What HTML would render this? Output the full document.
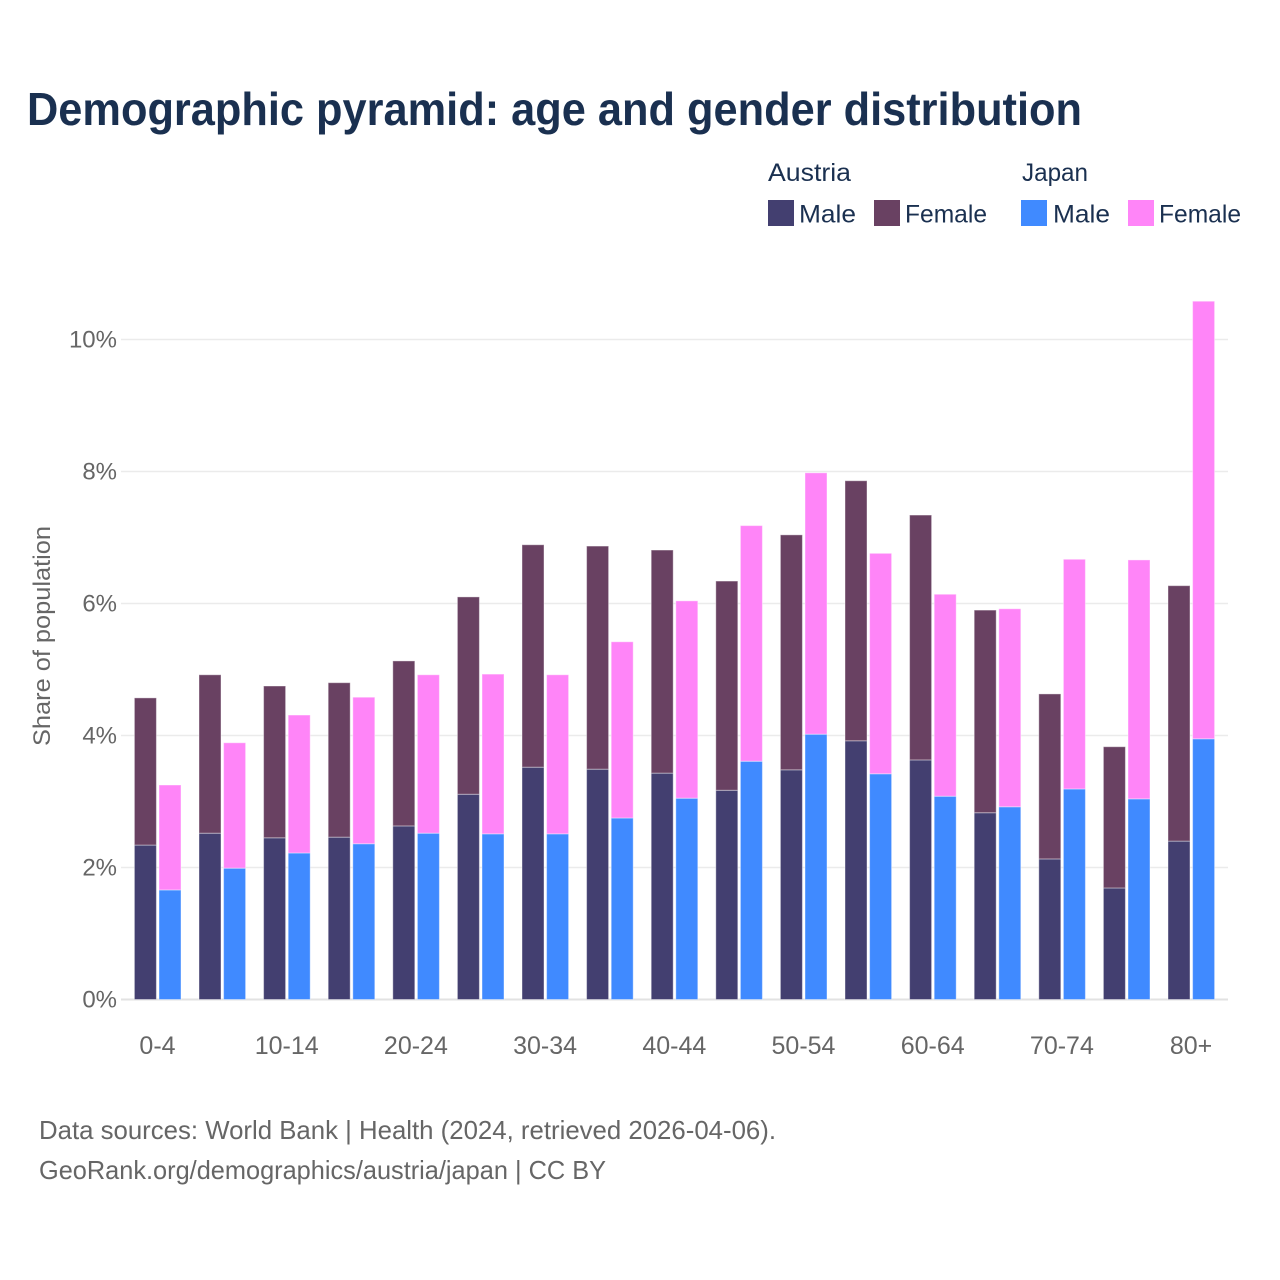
<!DOCTYPE html>
<html lang="en">
<head>
<meta charset="utf-8">
<title>Demographic pyramid: age and gender distribution</title>
<style>
  html, body { margin: 0; padding: 0; background: #fff; }
  svg { display: block; font-family: "Liberation Sans", sans-serif; }
  .tick { font-size: 24px; fill: #666666; }
  .xtick { font-size: 25px; fill: #666666; }
  .leg { font-size: 25px; fill: #1a3050; }
  .src { font-size: 26px; fill: #666666; }
</style>
</head>
<body>
<svg id="chart" xmlns="http://www.w3.org/2000/svg" width="1280" height="1280" viewBox="0 0 1280 1280">
  <rect x="0" y="0" width="1280" height="1280" fill="#ffffff"/>
  <text x="27" y="125" font-size="46" font-weight="700" fill="#1a3050" textLength="1055" lengthAdjust="spacingAndGlyphs">Demographic pyramid: age and gender distribution</text>

  <g>
    <text class="leg" x="768" y="181" textLength="83" lengthAdjust="spacingAndGlyphs">Austria</text>
    <rect x="768" y="200" width="26" height="26" fill="#433f70"/>
    <text class="leg" x="799" y="222.5" textLength="57" lengthAdjust="spacingAndGlyphs">Male</text>
    <rect x="874" y="200" width="26" height="26" fill="#694162"/>
    <text class="leg" x="905" y="222.5" textLength="82" lengthAdjust="spacingAndGlyphs">Female</text>
    <text class="leg" x="1022" y="181" textLength="66" lengthAdjust="spacingAndGlyphs">Japan</text>
    <rect x="1021" y="200" width="26" height="26" fill="#408aff"/>
    <text class="leg" x="1053" y="222.5" textLength="57" lengthAdjust="spacingAndGlyphs">Male</text>
    <rect x="1128" y="200" width="26" height="26" fill="#ff85f8"/>
    <text class="leg" x="1159" y="222.5" textLength="82" lengthAdjust="spacingAndGlyphs">Female</text>
  </g>

  <g id="grid"></g>
  <g id="yticks"></g>
  <g id="bars"></g>
  <g id="xticks"></g>

  <text class="tick" transform="translate(50,636) rotate(-90)" text-anchor="middle" textLength="220" lengthAdjust="spacingAndGlyphs">Share of population</text>

  <text class="src" x="39" y="1139" textLength="737" lengthAdjust="spacingAndGlyphs">Data sources: World Bank | Health (2024, retrieved 2026-04-06).</text>
  <text class="src" x="39" y="1179" textLength="567" lengthAdjust="spacingAndGlyphs">GeoRank.org/demographics/austria/japan | CC BY</text>
</svg>
<script>
const ageGroups = ["0-4","5-9","10-14","15-19","20-24","25-29","30-34","35-39","40-44","45-49","50-54","55-59","60-64","65-69","70-74","75-79","80+"];
const shownAgeLabels = ["0-4","10-14","20-24","30-34","40-44","50-54","60-64","70-74","80+"];
const austriaMale = [2.34,2.52,2.45,2.46,2.63,3.11,3.52,3.49,3.43,3.17,3.48,3.92,3.63,2.83,2.13,1.69,2.40];
const austriaFemale = [2.23,2.40,2.30,2.34,2.50,2.99,3.37,3.38,3.38,3.17,3.56,3.94,3.71,3.07,2.50,2.14,3.87];
const japanMale = [1.66,1.99,2.22,2.36,2.52,2.51,2.51,2.75,3.05,3.61,4.02,3.42,3.08,2.92,3.19,3.04,3.95];
const japanFemale = [1.59,1.90,2.09,2.22,2.40,2.42,2.41,2.67,2.99,3.57,3.96,3.34,3.06,3.00,3.48,3.62,6.63];
const yTicks = [0,2,4,6,8,10];

const NS = "http://www.w3.org/2000/svg";
function yScale(v) { return 999.5 - v * 66; }
function xCenter(i) { return 158 + i * 64.6; }
const barW = 22;

function addRect(parent, x, y0, y1, fill) {
  const r = document.createElementNS(NS, "rect");
  r.setAttribute("x", x);
  r.setAttribute("y", y1);
  r.setAttribute("width", barW);
  r.setAttribute("height", Math.max(0, y0 - y1));
  r.setAttribute("fill", fill);
  r.setAttribute("stroke", "#ffffff");
  r.setAttribute("stroke-opacity", "0.4");
  r.setAttribute("stroke-width", "1");
  parent.appendChild(r);
  return r;
}

const grid = document.getElementById("grid");
const yG = document.getElementById("yticks");
yTicks.forEach(function (t) {
  const l = document.createElementNS(NS, "line");
  
  
  l.setAttribute("x1", 121);
  l.setAttribute("x2", 1228);
  l.setAttribute("y1", yScale(t));
  l.setAttribute("y2", yScale(t));
  l.setAttribute("stroke", t === 0 ? "#e2e2e2" : "#ebebeb");
  l.setAttribute("stroke-width", t === 0 ? 2 : 1.5);
  grid.appendChild(l);
  const txt = document.createElementNS(NS, "text");
  
  
  txt.setAttribute("class", "tick");
  txt.setAttribute("x", 117);
  txt.setAttribute("y", yScale(t) + 8);
  txt.setAttribute("text-anchor", "end");
  txt.textContent = t + "%";
  yG.appendChild(txt);
});

const bars = document.getElementById("bars");
ageGroups.forEach(function (g, i) {
  const cx = xCenter(i);
  const xA = cx - 23.6;
  const xJ = cx + 1;
  const baseY = yScale(0);
  const aM = yScale(austriaMale[i]);
  const aT = yScale(austriaMale[i] + austriaFemale[i]);
  const jM = yScale(japanMale[i]);
  const jT = yScale(japanMale[i] + japanFemale[i]);
  const r1 = addRect(bars, xA, baseY, aM, "#433f70");
  
  
  const r2 = addRect(bars, xA, aM, aT, "#694162");
  
  
  const r3 = addRect(bars, xJ, baseY, jM, "#408aff");
  
  
  const r4 = addRect(bars, xJ, jM, jT, "#ff85f8");
  
  
});

const xG = document.getElementById("xticks");
shownAgeLabels.forEach(function (lab) {
  const i = ageGroups.indexOf(lab);
  const t = document.createElementNS(NS, "text");
  
  
  t.setAttribute("class", "xtick");
  t.setAttribute("x", xCenter(i) - 0.5);
  t.setAttribute("y", 1054);
  t.setAttribute("text-anchor", "middle");
  t.textContent = lab;
  xG.appendChild(t);
});
</script>
</body>
</html>
